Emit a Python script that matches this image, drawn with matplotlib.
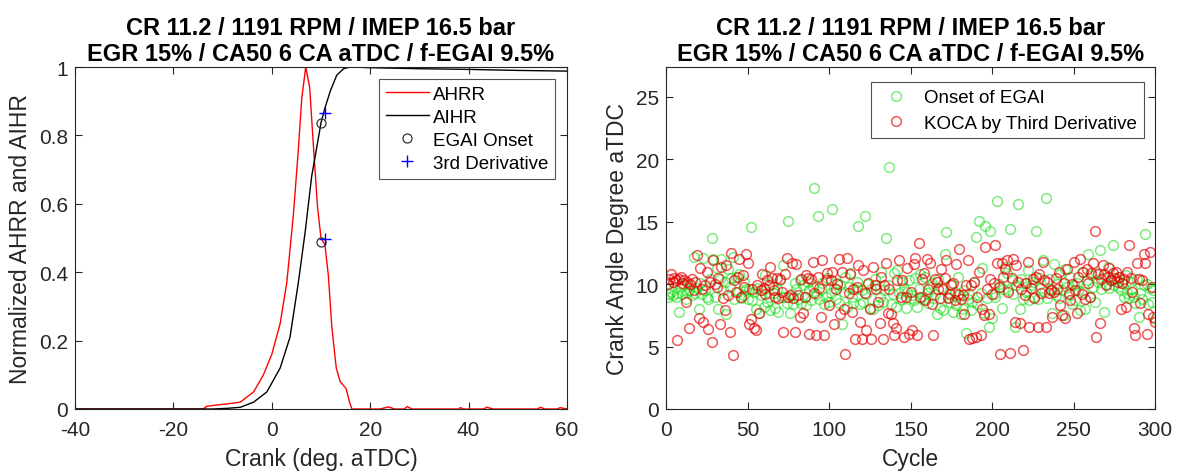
import numpy as np
import matplotlib.pyplot as plt

plt.rcParams['font.family'] = ['Liberation Sans', 'DejaVu Sans']
plt.rcParams['axes.unicode_minus'] = False

title_txt = 'CR 11.2 / 1191 RPM / IMEP 16.5 bar\nEGR 15% / CA50 6 CA aTDC / f-EGAI 9.5%'

# left panel: normalized heat release of one cycle
ahrr_ca = [-40, -14, -13.2, -11, -9, -6.4, -3.7, -1.7, 0, 1.7, 3.05, 4.4, 5.4, 6.1, 6.9,
           7.7, 8.5, 9.3, 10.0, 10.8, 11.5, 12.2, 13.1, 13.9, 15.1, 15.8, 16.3,
           22, 23.7, 25, 27, 27.5, 28.5, 38, 38.3, 39, 43, 43.7, 45, 54, 54.6, 55.5, 58, 58.6, 60]
ahrr = [0, 0, 0.008, 0.012, 0.015, 0.02, 0.05, 0.1, 0.16, 0.25, 0.37, 0.57, 0.76, 0.91, 1.0,
        0.94, 0.76, 0.59, 0.5, 0.48, 0.39, 0.24, 0.12, 0.08, 0.06, 0.02, 0,
        0, 0.006, 0, 0, 0.007, 0, 0, 0.004, 0, 0, 0.005, 0, 0, 0.005, 0, 0, 0.004, 0]

aihr_ca = [-40, -12, -9, -6.4, -3.7, -1, 1.7, 3.7, 5.4, 6.8, 8.1, 9.2, 10.0, 10.8, 11.9,
           13.2, 14.6, 15.9, 20, 30, 40, 50, 60]
aihr = [0, 0, 0.002, 0.005, 0.02, 0.05, 0.12, 0.21, 0.37, 0.52, 0.68, 0.77, 0.837, 0.88, 0.93,
        0.976, 0.995, 1.0, 0.998, 0.995, 0.993, 0.99, 0.988]

onset_ca = [10.0, 10.0]
onset_val = [0.488, 0.837]
deriv_ca = [10.8, 10.8]
deriv_val = [0.498, 0.866]

# right panel: per-cycle results
cycle = np.arange(1, 301)

koca = [
    10.0, 10.4, 10.8, 10.2, 10.5, 10.3, 5.5, 10.4, 10.6, 10.1, 10.3, 8.6, 10.2, 6.5, 10.0, 10.4, 9.5, 10.2, 12.3, 7.3, 11.3, 9.6, 7.0, 9.9, 11.0,
    6.4, 10.2, 5.4, 11.9, 10.0, 9.8, 10.5, 6.8, 11.4, 8.9, 7.9, 11.5, 9.1, 6.2, 12.5, 4.3, 10.3, 9.4, 10.6, 12.0, 9.0, 10.7, 9.8, 12.4, 11.7,
    6.8, 7.2, 9.6, 6.5, 6.3, 9.9, 7.7, 9.5, 10.8, 9.7, 9.2, 10.3, 9.9, 11.4, 10.5, 9.5, 9.0, 10.5, 8.9, 10.4, 9.4, 6.2, 10.8, 12.1, 9.0,
    9.1, 11.7, 8.9, 6.2, 11.6, 9.1, 7.4, 10.4, 7.7, 9.0, 10.7, 10.5, 6.0, 10.4, 11.8, 9.3, 5.9, 10.6, 9.7, 7.4, 11.9, 5.9, 10.3, 10.9, 8.3,
    10.3, 11.0, 6.8, 9.6, 10.0, 12.0, 7.6, 11.0, 8.0, 4.4, 12.1, 9.3, 10.8, 7.8, 9.6, 5.6, 9.8, 11.5, 7.0, 5.6, 11.1, 9.3, 6.3, 10.1, 8.0,
    5.6, 11.4, 9.9, 9.6, 8.6, 6.9, 10.6, 5.6, 9.9, 11.7, 7.7, 9.6, 7.6, 6.9, 5.9, 6.5, 10.3, 11.9, 9.0, 10.3, 5.8, 9.0, 11.3, 6.0, 9.4,
    6.3, 11.6, 12.1, 5.9, 13.3, 9.0, 10.4, 10.9, 8.7, 12.0, 9.6, 11.7, 8.4, 5.9, 10.4, 10.2, 9.6, 8.9, 11.2, 9.6, 10.5, 11.9, 8.9, 9.2, 9.9,
    10.1, 8.7, 11.6, 9.2, 12.8, 8.8, 9.1, 7.6, 9.9, 11.9, 5.6, 9.9, 5.7, 10.2, 5.8, 9.0, 11.0, 5.9, 8.0, 7.5, 13.0, 9.6, 7.6, 10.4, 9.2,
    10.1, 13.1, 11.7, 9.8, 4.4, 11.7, 10.6, 11.2, 11.9, 9.4, 4.5, 10.5, 12.0, 7.0, 11.5, 10.2, 6.9, 9.6, 4.7, 9.1, 10.1, 11.8, 6.6, 9.7, 10.4,
    8.9, 10.6, 6.6, 10.8, 9.3, 11.8, 10.3, 6.6, 10.2, 9.3, 9.5, 7.4, 9.4, 10.5, 9.6, 11.0, 8.3, 7.5, 10.1, 7.3, 11.2, 9.2, 8.7, 10.0, 11.8,
    9.5, 7.7, 10.6, 12.0, 9.2, 11.0, 8.8, 11.2, 10.1, 9.0, 10.9, 11.7, 14.3, 5.8, 10.8, 6.9, 10.4, 11.5, 10.8, 9.9, 10.6, 11.3, 10.3, 10.9, 10.5,
    11.0, 10.2, 10.6, 8.0, 10.1, 10.4, 8.2, 11.0, 13.1, 10.5, 9.4, 6.5, 5.9, 11.7, 10.4, 8.5, 10.3, 12.4, 11.7, 6.0, 7.6, 12.6, 9.8, 7.4, 7.0,
]

egai = [
    9.0, 9.2, 9.4, 9.1, 10.2, 9.0, 9.3, 7.8, 9.8, 9.2, 10.0, 8.8, 9.4, 9.5, 9.9, 9.1, 12.2, 9.3, 9.7, 8.0, 10.1, 9.2, 12.1, 9.5, 9.0,
    8.8, 10.4, 13.7, 12.0, 9.0, 11.3, 8.0, 10.4, 12.0, 9.5, 10.2, 7.6, 11.2, 9.8, 10.5, 12.2, 8.8, 10.6, 9.4, 10.8, 8.9, 9.1, 10.2, 9.6, 8.8,
    9.6, 14.6, 8.7, 9.4, 8.0, 9.7, 7.7, 9.1, 9.5, 8.2, 10.7, 8.6, 9.0, 7.9, 10.0, 9.3, 8.1, 9.6, 7.8, 10.3, 9.0, 11.5, 9.0, 8.5, 15.1,
    7.7, 9.2, 8.4, 10.1, 9.6, 8.8, 10.3, 8.5, 9.9, 9.0, 8.3, 10.2, 9.5, 8.7, 9.8, 17.7, 9.2, 15.5, 8.8, 9.6, 10.1, 8.4, 9.0, 10.5, 8.6,
    9.3, 16.0, 9.7, 8.8, 10.1, 8.5, 9.9, 6.8, 9.4, 10.6, 8.2, 9.8, 10.9, 9.0, 8.5, 9.6, 10.2, 14.7, 8.4, 9.5, 8.6, 15.5, 9.2, 10.0, 8.1,
    9.6, 8.0, 10.4, 9.9, 8.3, 9.0, 11.0, 8.6, 9.5, 13.7, 9.9, 19.4, 8.4, 9.2, 10.9, 8.2, 11.1, 9.3, 8.8, 10.2, 9.7, 8.1, 9.4, 10.3, 8.9,
    9.1, 8.7, 10.5, 8.2, 9.6, 10.8, 9.0, 8.8, 10.6, 9.3, 8.5, 9.8, 10.1, 8.9, 9.2, 7.6, 10.4, 8.1, 9.7, 7.9, 12.4, 14.2, 9.0, 8.6, 10.0,
    7.8, 9.4, 8.3, 10.6, 9.1, 7.6, 8.0, 9.5, 6.1, 8.8, 9.2, 7.9, 8.6, 10.2, 13.8, 8.4, 15.1, 9.3, 11.3, 7.7, 14.7, 8.9, 6.6, 14.3, 7.3,
    9.2, 9.0, 16.7, 10.0, 9.8, 8.1, 9.6, 11.4, 10.9, 9.5, 14.4, 10.3, 9.2, 6.6, 9.9, 16.4, 8.0, 10.4, 8.8, 10.1, 9.4, 11.1, 8.7, 9.9, 10.2,
    9.0, 14.3, 8.8, 10.5, 9.7, 11.9, 9.4, 16.9, 8.9, 10.4, 9.6, 7.7, 11.6, 9.1, 10.0, 8.9, 10.8, 9.5, 7.5, 11.2, 9.8, 9.3, 10.6, 8.4, 9.9,
    8.7, 10.1, 9.5, 7.9, 11.0, 9.4, 8.0, 10.3, 12.4, 9.0, 10.7, 9.8, 8.6, 10.9, 10.2, 12.7, 9.6, 10.5, 7.8, 10.0, 11.4, 9.7, 10.3, 13.1, 9.9,
    10.4, 9.8, 10.6, 9.5, 10.1, 9.0, 10.7, 9.3, 8.9, 10.2, 9.6, 9.0, 8.5, 10.4, 7.4, 9.3, 8.8, 9.9, 14.0, 10.0, 8.4, 9.7, 8.6, 9.5, 7.2,
]

axcol = '#262626'
W, H = 1177, 477
fig = plt.figure(figsize=(W / 100, H / 100), dpi=100)
ax1 = fig.add_axes([75 / W, (H - 410) / H, (567 - 75) / W, (410 - 68) / H])
ax2 = fig.add_axes([666 / W, (H - 410) / H, (1155 - 666) / W, (410 - 68) / H])


def matlab_style(ax):
    for s in ax.spines.values():
        s.set_color(axcol)
        s.set_linewidth(0.8)
    ax.tick_params(direction='in', top=True, right=True, length=5, width=0.8,
                   colors=axcol, labelsize=15, pad=5)
    ax.tick_params(axis='x', pad=8)
    ax.set_title(title_txt, fontsize=17, fontweight='bold', color='black', pad=5, linespacing=1.15)


# left
ax1.plot(ahrr_ca, ahrr, color='red', lw=1.0, label='AHRR')
ax1.plot(aihr_ca, aihr, color='black', lw=1.0, label='AIHR')
ax1.plot(onset_ca, onset_val, 'o', mfc='none', mec='#333333', ms=6.5, mew=0.9, label='EGAI Onset')
ax1.plot(deriv_ca, deriv_val, '+', color='blue', ms=8, mew=1.0, label='3rd Derivative')
ax1.set_xlim(-40, 60)
ax1.set_ylim(0, 1)
ax1.set_xticks([-40, -20, 0, 20, 40, 60])
ax1.set_yticks([0, 0.2, 0.4, 0.6, 0.8, 1])
ax1.set_yticklabels(['0', '0.2', '0.4', '0.6', '0.8', '1'])
ax1.set_xlabel('Crank (deg. aTDC)', fontsize=16.5, color=axcol, labelpad=6)
ax1.set_ylabel('Normalized AHRR and AIHR', fontsize=16.5, color=axcol, labelpad=5)
matlab_style(ax1)
leg1 = ax1.legend(loc='upper right', bbox_to_anchor=(0.975, 0.965), fontsize=13.5, frameon=True,
                  fancybox=False, edgecolor=axcol, handlelength=2.3, borderpad=0.35,
                  labelspacing=0.32, handletextpad=0.2, borderaxespad=0)
leg1.get_frame().set_linewidth(0.8)

# right
ax2.plot(cycle, egai, 'o', mfc='none', mec=(0.0, 0.85, 0.0, 0.5), ms=7, mew=1.1, label='Onset of EGAI')
ax2.plot(cycle, koca, 'o', mfc='none', mec=(0.9, 0.0, 0.0, 0.65), ms=7, mew=1.1,
         label='KOCA by Third Derivative')
ax2.set_xlim(0, 300)
ax2.set_ylim(0, 27.4)
ax2.set_xticks([0, 50, 100, 150, 200, 250, 300])
ax2.set_yticks([0, 5, 10, 15, 20, 25])
ax2.set_xlabel('Cycle', fontsize=16.5, color=axcol, labelpad=6)
ax2.set_ylabel('Crank Angle Degree aTDC', fontsize=16.5, color=axcol, labelpad=5)
matlab_style(ax2)
leg2 = ax2.legend(loc='upper right', bbox_to_anchor=(0.977, 0.955), fontsize=13.5, frameon=True,
                  fancybox=False, edgecolor=axcol, handlelength=2.0, borderpad=0.35,
                  labelspacing=0.45, handletextpad=0.5, borderaxespad=0)
leg2.get_frame().set_linewidth(0.8)

fig.savefig('out.png', dpi=100)
